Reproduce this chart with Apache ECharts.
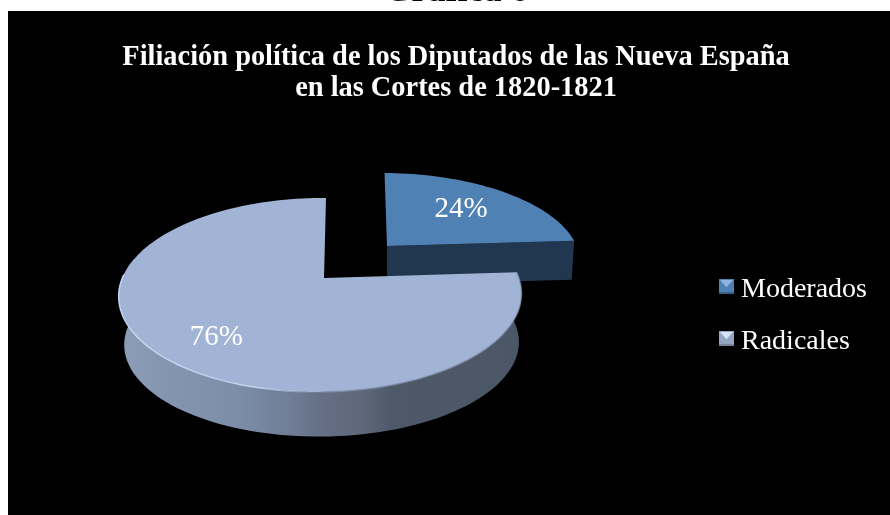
<!DOCTYPE html>
<html>
<head>
<meta charset="utf-8">
<style>html,body{margin:0;padding:0;background:#fff}#c{width:890px;height:515px}</style>
<script src="https://cdn.jsdelivr.net/npm/echarts@6/dist/echarts.min.js"></script>
</head>
<body>
<div id="c"></div>
<script>
// Chart content
const heading = 'Gráfica 6';
const chartTitle = 'Filiación política de los Diputados de las Nueva España\nen las Cortes de 1820-1821';
const categories = ['Moderados', 'Radicales'];
const shares = [24, 76];

// Perspective of each wedge: apex, radii, and how the lower rim shrinks and drops
const views = [
  { ax: 387, ay: 246, K: 193, s: -2.9, k: 85.8, p: 0.175, q: 0.0174,
    rimCx: 387, rimSx: 0.987, rimCy: 246, rimSy: 0.98, rimDx: 0, rimDy: 39,
    top: '#4f81b4',
    wall: '#21364f',
    labelR: 0.62, labelNudge: [0, -1] },
  { ax: 324, ay: 278, K: 198.2, s: 2.35, k: 94, p: 0.175, q: 0.0174,
    rimCx: 322, rimSx: 0.98, rimCy: 295, rimSy: 0.96, rimDx: 1.5, rimDy: 48.5,
    top: '#a2b4d6',
    wall: new echarts.graphic.LinearGradient(0, 0, 1, 0, [
      { offset: 0, color: '#8c9db9' }, { offset: 0.12, color: '#8496af' },
      { offset: 0.3, color: '#7b8da8' }, { offset: 0.42, color: '#707e96' },
      { offset: 0.52, color: '#636d83' }, { offset: 0.6, color: '#5e697c' },
      { offset: 0.68, color: '#4d5868' }, { offset: 1, color: '#4b5666' }
    ]),
    labelR: 0.73, labelNudge: [4, 4] }
];

const total = shares.reduce((a, b) => a + b, 0);

function project(v, r, deg) {
  const t = deg * Math.PI / 180;
  const a = r * Math.sin(t), b = r * Math.cos(t);
  const w = 1 + v.p * b + v.q * a;
  return [v.ax + (v.K * a + v.s * b) / w, v.ay - v.k * b / w];
}
const toRim = (v, pt) => [
  v.rimCx + v.rimDx + (pt[0] - v.rimCx) * v.rimSx,
  v.rimCy + v.rimDy + (pt[1] - v.rimCy) * v.rimSy
];

function arc(v, from, to) {
  const n = Math.max(2, Math.ceil(Math.abs(to - from) / 2));
  const out = [];
  for (let i = 0; i <= n; i++) out.push(project(v, 1, from + (to - from) * i / n));
  return out;
}

function wedge(idx) {
  const v = views[idx];
  const start = shares.slice(0, idx).reduce((a, b) => a + b, 0) / total * 360;
  const end = start + shares[idx] / total * 360;
  const outer = arc(v, start, end);
  const apex = [v.ax, v.ay];
  const children = [];

  if (idx === 0) {
    // Cut face below the trailing edge of the wedge
    const b = project(v, 1, end);
    children.push({
      type: 'polygon',
      shape: { points: [apex, b, toRim(v, b), toRim(v, apex)] },
      style: { fill: v.wall }
    });
  } else {
    // Curved side wall swept from the outer arc down to the lower rim
    const front = arc(v, start, 282);
    children.push({
      type: 'polygon',
      shape: { points: front.concat(front.map(p => toRim(v, p)).reverse()) },
      style: { fill: v.wall }
    });
  }

  // Top surface
  children.push({
    type: 'polygon',
    shape: { points: [apex].concat(outer) },
    style: { fill: v.top }
  });

  if (idx === 1) {
    // Soft shaded edge on the right, pale highlight fading along the near-left rim
    children.push({
      type: 'polyline',
      shape: { points: arc(v, start, 180) },
      style: { stroke: '#8796b2', lineWidth: 1.6, fill: 'none', opacity: 0.7 }
    });
    children.push({
      type: 'polyline',
      shape: { points: arc(v, 180, 272) },
      style: {
        stroke: new echarts.graphic.LinearGradient(0, 0, 1, 0, [
          { offset: 0, color: 'rgba(200,218,245,0.95)' },
          { offset: 0.7, color: 'rgba(200,218,245,0.9)' },
          { offset: 1, color: 'rgba(200,218,245,0)' }
        ]),
        lineWidth: 1.4, fill: 'none'
      }
    });
  }

  // Percentage label on the wedge
  const mid = (start + end) / 2;
  const at = project(v, v.labelR, mid);
  children.push({
    type: 'text',
    x: at[0] + v.labelNudge[0], y: at[1] + v.labelNudge[1],
    style: {
      text: Math.round(shares[idx] / total * 100) + '%',
      fill: '#fff',
      font: '29px "Liberation Serif", serif',
      align: 'center',
      verticalAlign: 'middle'
    }
  });
  return { type: 'group', children };
}

const chart = echarts.init(document.getElementById('c'), null, { renderer: 'canvas' });

// Bevelled facets on the legend swatches
function swatch(x, y, light, dark) {
  const s = 15;
  return [
    { type: 'rect', z: 50, shape: { x: x, y: y + s - 2, width: s, height: 2 }, style: { fill: dark } },
    { type: 'polygon', z: 50, shape: { points: [[x + 1, y + 1], [x + s - 1, y + 1], [x + s / 2, y + s * 0.55]] }, style: { fill: light } }
  ];
}

chart.setOption({
  animation: false,
  backgroundColor: '#fff',
  title: [
    { text: heading, left: 456, top: -26, padding: 0, textAlign: 'center',
      textStyle: { fontFamily: '"Liberation Serif", serif', fontWeight: 'bold', fontSize: 36, color: '#000' } },
    { text: chartTitle, left: 456, top: 42, padding: 0, textAlign: 'center',
      textStyle: { fontFamily: '"Liberation Serif", serif', fontWeight: 'bold', fontSize: 28.4, lineHeight: 31, color: '#fff' } }
  ],
  legend: {
    data: categories,
    orient: 'vertical',
    left: 719, top: 275.5, padding: 0,
    itemWidth: 15, itemHeight: 15, itemGap: 24,
    icon: 'rect',
    formatter: '{n|{name}}',
    textStyle: {
      color: '#fff',
      rich: { n: { fontFamily: '"Liberation Serif", serif', fontSize: 28, color: '#fff', padding: [6, 0, 0, 2] } }
    }
  },
  graphic: [
    { type: 'rect', z: -10, silent: true, shape: { x: 8, y: 11, width: 882, height: 504 }, style: { fill: '#000' } }
  ].concat(swatch(719, 279, '#8fb5de', '#3a5f88'), swatch(719, 331, '#d8e2f2', '#76849c')),
  series: categories.map((name, i) => ({
    type: 'custom',
    name,
    coordinateSystem: 'none',
    z: 2 + i,
    silent: true,
    itemStyle: { color: i === 0 ? '#4f81b4' : '#95a6c4' },
    data: [shares[i]],
    renderItem: () => wedge(i)
  }))
});
</script>
</body>
</html>
